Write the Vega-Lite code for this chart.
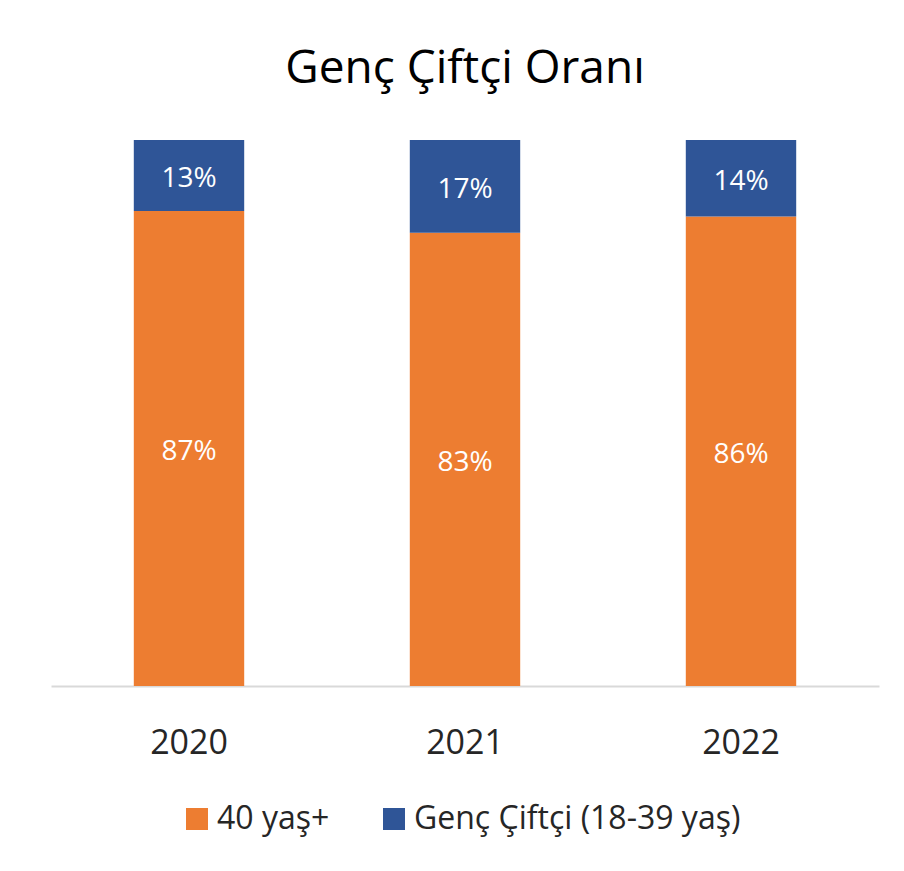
{
  "$schema": "https://vega.github.io/schema/vega-lite/v6.json",
  "width": 828,
  "height": 546,
  "autosize": {"type": "none"},
  "padding": {"left": 51, "top": 140, "right": 25, "bottom": 185},
  "background": "white",
  "config": {"view": {"stroke": null}, "font": "Open Sans"},
  "title": {"text": "Genç Çiftçi Oranı", "fontSize": 46, "font": "Open Sans", "fontWeight": "normal", "color": "#000000", "anchor": "middle", "offset": 47},
  "data": {"values": [
    {"year": "2020", "group": "40 yaş+", "value": 0.87},
    {"year": "2020", "group": "Genç Çiftçi (18-39 yaş)", "value": 0.13},
    {"year": "2021", "group": "40 yaş+", "value": 0.83},
    {"year": "2021", "group": "Genç Çiftçi (18-39 yaş)", "value": 0.17},
    {"year": "2022", "group": "40 yaş+", "value": 0.86},
    {"year": "2022", "group": "Genç Çiftçi (18-39 yaş)", "value": 0.14}
  ]},
  "encoding": {
    "x": {
      "field": "year", "type": "nominal",
      "scale": {"paddingInner": 0.6, "paddingOuter": 0.3},
      "axis": {"title": null, "labelAngle": 0, "labelFontSize": 34, "labelFont": "Open Sans", "labelColor": "#262626", "ticks": false, "tickSize": 0, "labelPadding": 40, "domainColor": "#d9d9d9", "domainWidth": 2, "grid": false}
    }
  },
  "layer": [
    {
      "mark": {"type": "bar"},
      "encoding": {
        "y": {"field": "value", "type": "quantitative", "stack": "zero", "scale": {"domain": [0, 1]}, "axis": null},
        "order": {"field": "group", "sort": "ascending"},
        "color": {
          "field": "group", "type": "nominal",
          "scale": {"domain": ["40 yaş+", "Genç Çiftçi (18-39 yaş)"], "range": ["#ED7D31", "#2F5597"]},
          "legend": {"title": null, "orient": "none", "legendX": 130, "legendY": 663, "direction": "horizontal", "symbolType": "square", "symbolSize": 484, "symbolStrokeWidth": 0, "labelFontSize": 32, "labelFont": "Open Sans", "labelColor": "#262626", "labelOffset": 4, "labelLimit": 0, "columnPadding": 48, "symbolOpacity": 1}
        }
      }
    },
    {
      "mark": {"type": "text", "color": "#ffffff", "fontSize": 28, "font": "Open Sans", "baseline": "middle", "dy": 4},
      "encoding": {
        "y": {"field": "value", "type": "quantitative", "stack": "zero", "bandPosition": 0.5},
        "order": {"field": "group", "sort": "ascending"},
        "detail": {"field": "group"},
        "text": {"field": "value", "type": "quantitative", "format": ".0%"}
      }
    }
  ]
}
